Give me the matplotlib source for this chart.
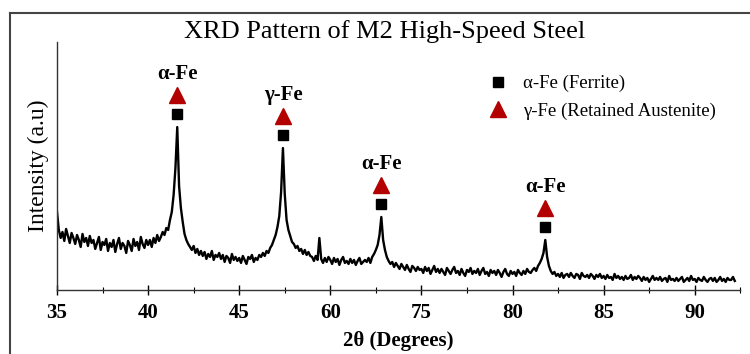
import numpy as np
import matplotlib
matplotlib.use("Agg")
import matplotlib.pyplot as plt
from matplotlib.lines import Line2D

plt.rcParams['font.family'] = ['Liberation Serif', 'DejaVu Serif']

# scan grid (axis position, 0.1 step) and intensity
two_theta = np.round(np.arange(35.0, 72.25, 0.1), 1)
intensity = [
    78, 60, 52, 58, 49, 61, 54, 47, 57, 52,
    46, 55, 50, 43, 56, 48, 52, 44, 54, 47,
    50, 41, 47, 53, 40, 48, 45, 51, 39, 47,
    43, 50, 38, 46, 52, 41, 47, 44, 37, 49,
    45, 39, 51, 44, 48, 40, 53, 46, 42, 50,
    45, 50, 43, 52, 47, 55, 49, 53, 58, 55,
    62, 60, 70, 78, 95, 122, 163, 104, 82, 68,
    56, 50, 46, 43, 40, 44, 37, 41, 35, 39,
    34, 38, 31, 36, 33, 39, 30, 35, 33, 37,
    31, 35, 28, 34, 32, 27, 36, 30, 33, 29,
    32, 27, 34, 30, 26, 33, 31, 35, 28, 32,
    30, 35, 33, 37, 34, 39, 37, 42, 45, 50,
    55, 63, 74, 98, 142, 96, 70, 60, 54, 48,
    46, 42, 44, 39, 41, 36, 40, 35, 38, 34,
    33, 29, 34, 30, 52, 31, 27, 32, 28, 33,
    30, 26, 32, 28, 31, 25, 30, 33, 27, 29,
    26, 31, 27, 30, 25, 29, 32, 26, 28, 30,
    28, 32, 27, 33, 36, 40, 45, 55, 73, 50,
    40, 33, 29, 26, 28, 23, 27, 24, 21, 26,
    23, 20, 25, 21, 18, 24, 22, 19, 23, 20,
    21, 17, 23, 19, 22, 16, 20, 24, 18, 21,
    17, 21, 18, 15, 22, 19, 16, 20, 23, 17,
    19, 15, 21, 17, 14, 20, 18, 22, 16, 19,
    17, 21, 15, 19, 22, 16, 18, 14, 20, 17,
    19, 15, 20, 17, 13, 18, 21, 16, 14, 19,
    16, 18, 14, 20, 17, 15, 19, 16, 21, 18,
    17, 20, 22, 19, 24, 27, 31, 37, 50, 33,
    24, 19, 16, 18, 14, 16, 13, 17, 12, 15,
    16, 13, 17, 14, 12, 16, 15, 11, 17, 14,
    13, 15, 12, 16, 14, 11, 15, 13, 16, 12,
    14, 11, 15, 12, 13, 10, 16, 12, 14, 11,
    13, 10, 14, 11, 12, 15, 10, 13, 11, 14,
    12, 9, 13, 10, 12, 8, 11, 14, 10, 12,
    10, 13, 9, 11, 12, 8, 14, 10, 11, 9,
    12, 9, 11, 13, 8, 10, 12, 9, 14, 10,
    11, 8, 12, 10, 9, 13, 10, 8, 11, 12,
    9, 12, 8, 10, 13, 9, 11, 8, 12, 10,
    10, 13, 9,
]

# identified peaks
peak_pos = [41.6, 47.4, 52.8, 61.8]
peak_height = [163, 142, 73, 50]
peak_names = ['α-Fe', 'γ-Fe', 'α-Fe', 'α-Fe']

tick_pos = [35, 40, 45, 50, 55, 60, 65, 70]
tick_labels = ['35', '40', '45', '60', '75', '80', '85', '90']

fig = plt.figure(figsize=(7.5, 3.54), dpi=100)
ax = fig.add_axes([0.076, 0.181, 0.911, 0.700])

ax.plot(two_theta, intensity, color='black', lw=1.7)

# markers over the peaks
ph = np.array(peak_height)
ax.plot(peak_pos, ph + 13, 's', color='black', ms=7, ls='none',
        label='α-Fe (Ferrite)')
ax.plot(peak_pos, ph + 32, '^', color='#b30000', ms=11, ls='none',
        label='γ-Fe (Retained Austenite)')
for p, h, n in zip(peak_pos, ph, peak_names):
    ax.annotate(n, (p, h + 32), xytext=(0, 8), textcoords='offset points',
                ha='center', va='bottom', fontsize=15, fontweight='bold')

ax.set_xlim(35, 72.5)
ax.set_ylim(0, 248)
ax.set_xticks(tick_pos)
ax.set_xticklabels(tick_labels, fontsize=15, fontweight='bold')
ax.set_xticks(np.arange(37.5, 73, 5), minor=True)
ax.tick_params(axis='x', which='major', direction='inout', length=7, width=1, pad=6)
ax.tick_params(axis='x', which='minor', direction='inout', length=4, width=0.8)
ax.set_yticks([])
for s in ['top', 'right']:
    ax.spines[s].set_visible(False)
for s in ['left', 'bottom']:
    ax.spines[s].set_linewidth(1.0)
    ax.spines[s].set_color('#333333')

ax.set_xlabel('2θ (Degrees)', fontsize=15, fontweight='bold', labelpad=6)
ax.set_ylabel('Intensity (a.u)', fontsize=17, labelpad=6)

ax.legend(loc='upper left', bbox_to_anchor=(0.605, 0.935), frameon=False,
          fontsize=13.5, handletextpad=0.7, labelspacing=0.55, handlelength=1.2)

fig.suptitle('XRD Pattern of M2 High-Speed Steel', x=0.513, y=0.91,
             fontsize=19, va='center')

# outer frame
fig.add_artist(Line2D([0.013, 1.0], [0.963, 0.963], color='#444444', lw=1.5))
fig.add_artist(Line2D([0.013, 0.013], [0.0, 0.963], color='#444444', lw=1.5))

fig.savefig('out.png', dpi=100)
